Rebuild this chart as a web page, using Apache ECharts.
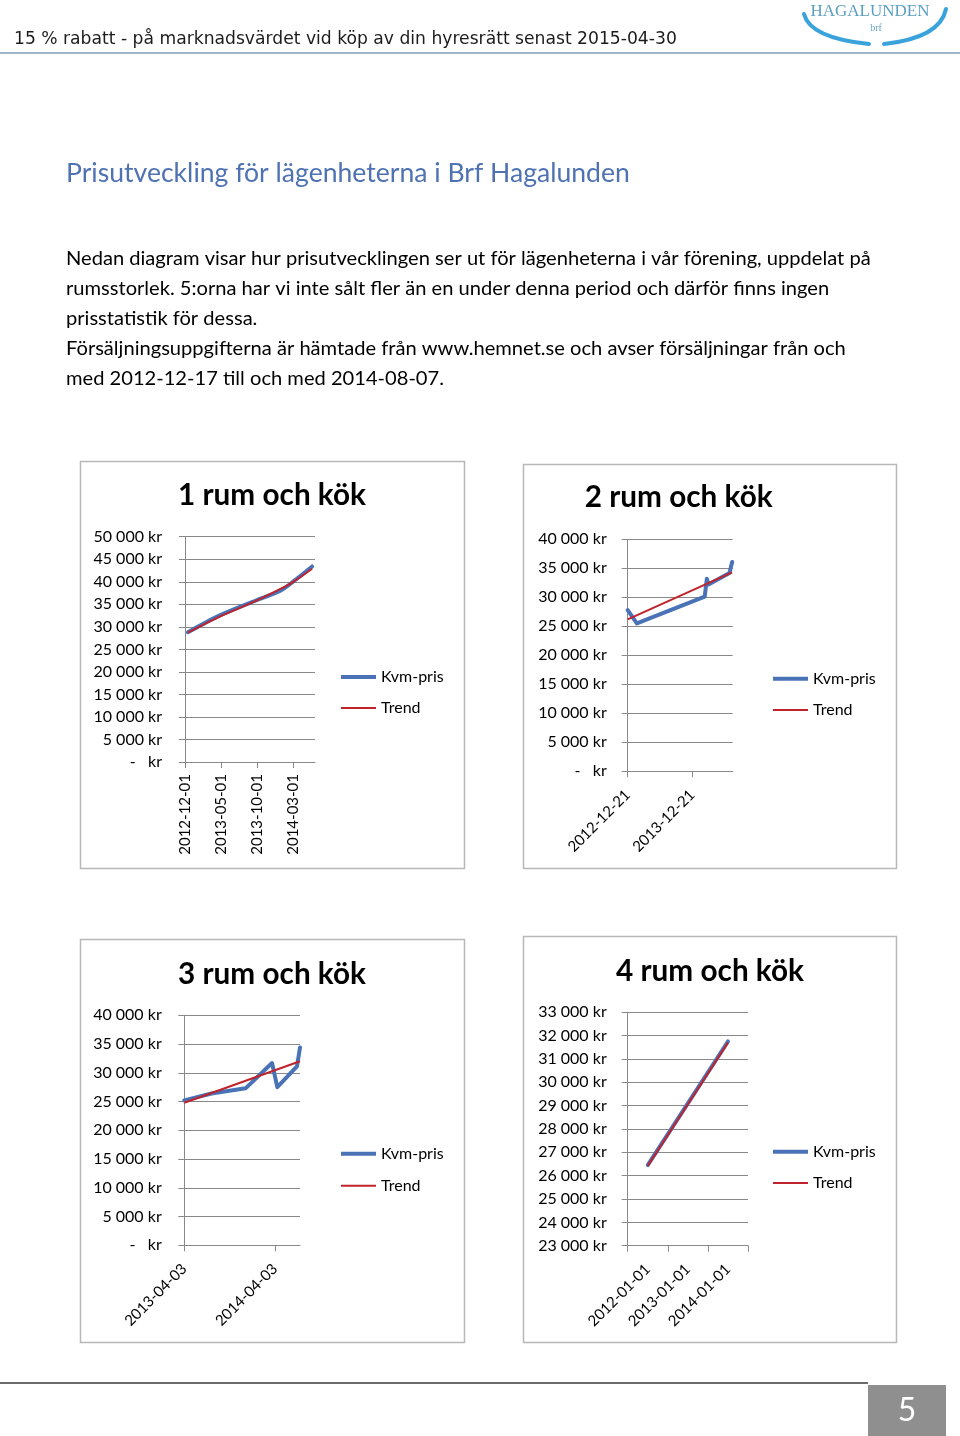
<!DOCTYPE html>
<html><head><meta charset="utf-8">
<script src="https://cdn.jsdelivr.net/npm/echarts@6/dist/echarts.min.js"></script>
<style>html,body{margin:0;padding:0;background:#fff}#c{width:960px;height:1436px}</style>
</head><body><div id="c"></div>
<script>
// ---------- DATA ----------
const seriesNames = ['Kvm-pris', 'Trend'];
const chartTitles = ['1 rum och kök', '2 rum och kök', '3 rum och kök', '4 rum och kök'];

// Chart 1: x = months since 2012-12-01
const xLabels1 = ['2012-12-01', '2013-05-01', '2013-10-01', '2014-03-01'];
const months1 = [0.4, 4.9, 9.9, 13.2, 15.1, 17.6];
const kvm1 = [28800, 32600, 35900, 38000, 40200, 43400];
const trend1 = [28700, 32300, 35800, 38400, 40100, 42900];

// Chart 2: x = months since 2012-12-21
const xLabels2 = ['2012-12-21', '2013-12-21'];
const months2 = [0, 1.7, 14.3, 14.7, 15.0, 18.9, 19.4];
const kvm2 = [27800, 25500, 30100, 33200, 32200, 34200, 36100];
const trendMonths2 = [0, 19.4];
const trend2 = [26200, 34300];

// Chart 3: x = months since 2013-04-03
const xLabels3 = ['2013-04-03', '2014-04-03'];
const months3 = [0, 3.6, 8.1, 11.6, 12.3, 14.9, 15.3];
const kvm3 = [25200, 26400, 27300, 31700, 27500, 31100, 34400];
const trendMonths3 = [0, 15.3];
const trend3 = [24800, 32000];

// Chart 4: yearly categories
const years4 = ['2012-01-01', '2013-01-01', '2014-01-01'];
const kvm4 = [26450, 29100, 31750];
const trend4 = [26420, 29060, 31700];

// Page texts
const headerText = '15 % rabatt - på marknadsvärdet vid köp av din hyresrätt senast 2015-04-30';
const pageTitle = 'Prisutveckling för lägenheterna i Brf Hagalunden';
const paragraph = [
  'Nedan diagram visar hur prisutvecklingen ser ut för lägenheterna i vår förening, uppdelat på',
  'rumsstorlek. 5:orna har vi inte sålt fler än en under denna period och därför finns ingen',
  'prisstatistik för dessa.',
  'Försäljningsuppgifterna är hämtade från www.hemnet.se och avser försäljningar från och',
  'med 2012-12-17 till och med 2014-08-07.'
];
const pageNumber = '5';

// ---------- STYLE / LAYOUT ----------
const FAM = 'Lato';
const BLUE = '#4a72b6';
const RED = '#c0232b';
const GRID = '#898989';

const mctx = document.createElement('canvas').getContext('2d');
function fitSize(text, weight, family, width) {
  mctx.font = weight + ' 100px ' + family;
  return 100 * width / mctx.measureText(text).width;
}
const paraSize = fitSize(paragraph[0], 'normal', FAM, 805);
const headSize = fitSize(headerText, 'normal', 'DejaVu Sans', 663);
const titleSize = fitSize(pageTitle, 'normal', FAM, 564);
const chartTitleSize = fitSize(chartTitles[0], 'bold', FAM, 188);

function kr(v) {
  if (v === 0) return '-   kr';
  return String(v).replace(/\B(?=(\d{3})+(?!\d))/g, ' ') + ' kr';
}
function zip(a, b) { return a.map((x, i) => [x, b[i]]); }

const grids = [
  {left: 185, top: 536.7, width: 130, height: 225.3},
  {left: 627.7, top: 539.3, width: 105, height: 232},
  {left: 184.3, top: 1015.3, width: 115.7, height: 230},
  {left: 627.7, top: 1012.3, width: 120.3, height: 233.4}
];

function yAxis(gi, min, max, interval, margin) {
  return {
    type: 'value', gridIndex: gi, min, max, interval,
    axisLine: {show: true, lineStyle: {color: GRID, width: 1}},
    axisTick: {show: true, length: 6, lineStyle: {color: GRID}},
    splitLine: {show: true, lineStyle: {color: GRID, width: 1}},
    axisLabel: {formatter: kr, color: '#000', fontSize: 16, fontFamily: FAM, margin}
  };
}
function xValAxis(gi, max, step, labels, rotate, margin) {
  const vals = labels.map((_, i) => i * step);
  return {
    type: 'value', gridIndex: gi, min: 0, max,
    axisLine: {show: true, onZero: false, lineStyle: {color: GRID}},
    axisTick: {show: true, length: 6, customValues: vals, lineStyle: {color: GRID}},
    splitLine: {show: false},
    axisLabel: {customValues: vals, rotate, margin, color: '#000', fontSize: 15, fontFamily: FAM,
      formatter: v => labels[Math.round(v / step)] || ''}
  };
}

const lineBase = {type: 'line', symbol: 'none', showSymbol: false, silent: true};
function blue(gi, data, smooth) {
  return Object.assign({}, lineBase, {name: seriesNames[0], xAxisIndex: gi, yAxisIndex: gi, data, smooth: smooth || false,
    lineStyle: {color: BLUE, width: 4, cap: 'round', join: 'round'}, itemStyle: {color: BLUE}});
}
function red(gi, data, smooth) {
  return Object.assign({}, lineBase, {name: seriesNames[1], xAxisIndex: gi, yAxisIndex: gi, data, smooth: smooth || false,
    lineStyle: {color: RED, width: 2}, itemStyle: {color: RED}});
}

// one legend per item so each icon can have its own thickness
function legendItem(name, left, top, thick) {
  return {data: [{name, icon: 'rect'}], left, top, padding: 0, itemWidth: 35, itemHeight: thick,
    selectedMode: false, textStyle: {fontSize: 16, fontFamily: FAM, color: '#000'}};
}
function legendPair(left, yBlue, yRed) {
  return [legendItem(seriesNames[0], left, yBlue - 8, 4), legendItem(seriesNames[1], left, yRed - 8, 2)];
}

const txt = (x, y, text, size, extra) => ({type: 'text', x, y, silent: true,
  style: Object.assign({text, fontSize: size, fontFamily: FAM, fill: '#000', align: 'left', verticalAlign: 'middle'}, extra || {})});

const graphics = [
  // header
  txt(14, 39.5, headerText, headSize, {fontFamily: 'DejaVu Sans', fill: '#1c1c1c'}),
  {type: 'line', shape: {x1: 0, y1: 53, x2: 960, y2: 53}, style: {stroke: '#7f9cbd', lineWidth: 1.5}},
  // logo
  {type: 'bezierCurve', shape: {x1: 804, y1: 14, cpx1: 810, cpy1: 38, x2: 869, y2: 44}, style: {stroke: '#3aa3dc', lineWidth: 4, fill: null, lineCap: 'round'}},
  {type: 'bezierCurve', shape: {x1: 884, y1: 44, cpx1: 940, cpy1: 38, x2: 946, y2: 9}, style: {stroke: '#3aa3dc', lineWidth: 4, fill: null, lineCap: 'round'}},
  txt(870, 12, 'HAGALUNDEN', 17, {fontFamily: 'Liberation Serif', fill: '#5a9fc0', align: 'center'}),
  txt(876, 28, 'brf', 10, {fontFamily: 'Liberation Serif', fill: '#6aa8c8', align: 'center'}),
  // title and paragraph
  txt(66, 173, pageTitle, titleSize, {fill: '#4f72b3'}),
  ...paragraph.map((t, i) => txt(66, [259, 288.5, 319, 349, 379][i], t, paraSize)),
  // chart boxes
  {type: 'rect', shape: {x: 80.5, y: 461.5, width: 384, height: 407}, style: {fill: null, stroke: '#b8b8b8', lineWidth: 1.5}},
  {type: 'rect', shape: {x: 523.5, y: 464.5, width: 373, height: 404}, style: {fill: null, stroke: '#b8b8b8', lineWidth: 1.5}},
  {type: 'rect', shape: {x: 80.5, y: 939.5, width: 384, height: 403}, style: {fill: null, stroke: '#b8b8b8', lineWidth: 1.5}},
  {type: 'rect', shape: {x: 523.5, y: 936.5, width: 373, height: 406}, style: {fill: null, stroke: '#b8b8b8', lineWidth: 1.5}},
  // chart titles
  txt(272, 495, chartTitles[0], chartTitleSize, {fontWeight: 'bold', align: 'center'}),
  txt(678.7, 497, chartTitles[1], chartTitleSize, {fontWeight: 'bold', align: 'center'}),
  txt(272, 974, chartTitles[2], chartTitleSize, {fontWeight: 'bold', align: 'center'}),
  txt(710, 971, chartTitles[3], chartTitleSize, {fontWeight: 'bold', align: 'center'}),
  // footer
  {type: 'line', shape: {x1: 0, y1: 1383, x2: 868, y2: 1383}, style: {stroke: '#3a3a3a', lineWidth: 1.5}},
  {type: 'rect', shape: {x: 868, y: 1385, width: 78, height: 51}, style: {fill: '#8f8f8f'}},
  txt(907, 1411, pageNumber, 32, {fill: '#fff', align: 'center'})
];

const option = {
  backgroundColor: '#fff',
  animation: false,
  grid: grids,
  xAxis: [
    xValAxis(0, 18, 5, xLabels1, 90, 12),
    xValAxis(1, 19.5, 12, xLabels2, 45, 21),
    xValAxis(2, 15.3, 12, xLabels3, 45, 21),
    {type: 'category', gridIndex: 3, data: years4, boundaryGap: true,
      axisLine: {show: true, lineStyle: {color: GRID}},
      axisTick: {show: true, length: 6, alignWithLabel: false, interval: 0, lineStyle: {color: GRID}},
      splitLine: {show: false},
      axisLabel: {interval: 0, rotate: 45, margin: 21, color: '#000', fontSize: 15, fontFamily: FAM}}
  ],
  yAxis: [
    yAxis(0, 0, 50000, 5000, 23),
    yAxis(1, 0, 40000, 5000, 21),
    yAxis(2, 0, 40000, 5000, 22.6),
    yAxis(3, 23000, 33000, 1000, 21)
  ],
  legend: [
    ...legendPair(341, 677, 708),
    ...legendPair(773, 678.7, 710),
    ...legendPair(341, 1153.7, 1185.7),
    ...legendPair(773, 1151.7, 1183)
  ],
  series: [
    blue(0, zip(months1, kvm1), 0.3), red(0, zip(months1, trend1), 0.3),
    blue(1, zip(months2, kvm2)), red(1, zip(trendMonths2, trend2)),
    blue(2, zip(months3, kvm3)), red(2, zip(trendMonths3, trend3)),
    blue(3, kvm4), red(3, trend4)
  ],
  graphic: graphics
};
const chart = echarts.init(document.getElementById('c'), null, {renderer: 'canvas'});
chart.setOption(option);
</script>
</body></html>
